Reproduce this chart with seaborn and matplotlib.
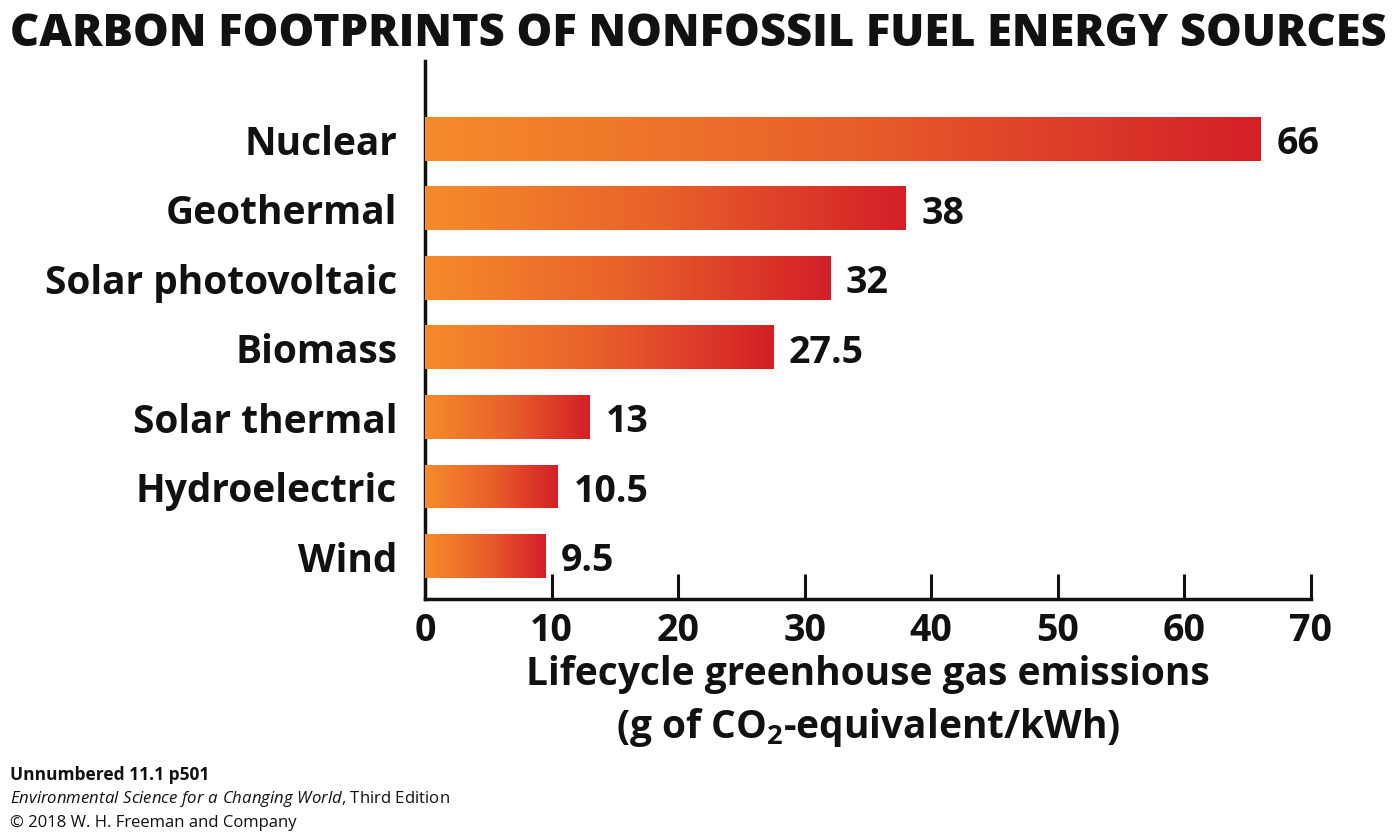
import numpy as np
import pandas as pd
import matplotlib
matplotlib.use("Agg")
import matplotlib.pyplot as plt
from matplotlib.colors import LinearSegmentedColormap
import seaborn as sns

categories = ["Nuclear", "Geothermal", "Solar photovoltaic", "Biomass",
              "Solar thermal", "Hydroelectric", "Wind"]
values = [66, 38, 32, 27.5, 13, 10.5, 9.5]
value_labels = ["66", "38", "32", "27.5", "13", "10.5", "9.5"]
x_ticks = [0, 10, 20, 30, 40, 50, 60, 70]

sns.set_theme(style="white")
FONT = ["Open Sans", "DejaVu Sans"]
plt.rcParams["font.family"] = FONT
plt.rcParams["mathtext.fontset"] = "custom"
plt.rcParams["mathtext.rm"] = "Open Sans:bold"
plt.rcParams["mathtext.it"] = "Open Sans:italic"
plt.rcParams["mathtext.default"] = "rm"

df = pd.DataFrame({"source": categories, "value": values})

fig = plt.figure(figsize=(14, 8.37), dpi=100)
ax = fig.add_axes([425/1400, 1-600/837, (1311-425)/1400, (600-62)/837])

sns.barplot(data=df, x="value", y="source", orient="h", ax=ax,
            color="#E8602A", width=0.63, saturation=1, edgecolor="none")

cmap = LinearSegmentedColormap.from_list("og", ["#F68B2B", "#E8602A", "#D41F27"])
grad = np.linspace(0, 1, 256).reshape(1, -1)
for p in ax.patches:
    x0, y0 = p.get_x(), p.get_y()
    w, h = p.get_width(), p.get_height()
    im = ax.imshow(grad, cmap=cmap, aspect="auto",
                   extent=(x0, x0 + w, y0 + h, y0), zorder=3,
                   interpolation="bilinear")
    im.set_clip_path(p)

for i, (v, lab) in enumerate(zip(values, value_labels)):
    ax.text(v + 1.25, i, lab, va="center_baseline", ha="left", fontsize=27,
            fontweight="bold", color="#111111")

ax.set_xlim(0, 70)
ax.set_ylim(6.62, -1.12)
ax.set_xticks(x_ticks)
ax.set_xticklabels([str(t) for t in x_ticks], fontsize=27, fontweight="bold",
                   color="#111111")
ax.tick_params(axis="x", direction="in", length=18, width=2.2, color="#111111",
               bottom=True, pad=9)
ax.tick_params(axis="y", length=0, pad=20)
for lab in ax.get_yticklabels():
    lab.set_fontsize(28)
    lab.set_fontweight("bold")
    lab.set_color("#111111")
ax.set_ylabel("")
ax.set_xlabel("")
for s in ["top", "right"]:
    ax.spines[s].set_visible(False)
for s in ["left", "bottom"]:
    ax.spines[s].set_color("#111111")
    ax.spines[s].set_linewidth(2.5)
ax.grid(False)

fig.text(868/1400, 1-675/837, "Lifecycle greenhouse gas emissions",
         ha="center", va="center", fontsize=28, fontweight="bold", color="#111111")
fig.text(868/1400, 1-728/837, "(g of CO$_2$-equivalent/kWh)",
         ha="center", va="center", fontsize=28, fontweight="bold", color="#111111")

fig.text(698/1400, 1-35/837, "CARBON FOOTPRINTS OF NONFOSSIL FUEL ENERGY SOURCES",
         ha="center", va="center", fontsize=32.5, fontweight="heavy", color="#111111")

fig.text(10/1400, 1-775/837, "Unnumbered 11.1 p501", ha="left", va="center",
         fontsize=12.5, fontweight="bold", color="#111111")
fig.text(10/1400, 1-799/837, "$\\mathit{Environmental\\ Science\\ for\\ a\\ Changing\\ World}$, Third Edition",
         ha="left", va="center", fontsize=12.1, color="#111111")
fig.text(10/1400, 1-823/837, "\u00a9 2018 W. H. Freeman and Company", ha="left",
         va="center", fontsize=12, color="#111111")

fig.savefig("out.png", dpi=100)
